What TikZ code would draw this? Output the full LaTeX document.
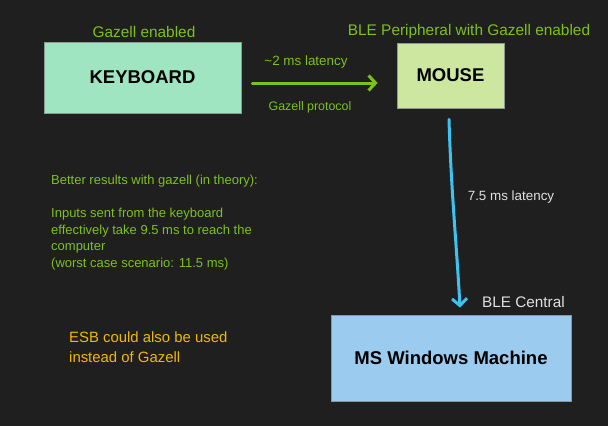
\documentclass[tikz,border=0pt]{standalone}
\usepackage{fontspec}
\setmainfont{Liberation Sans}
\usetikzlibrary{positioning, arrows.meta}
\definecolor{canvas}{HTML}{1F1F1F}
\definecolor{gzgreen}{HTML}{7DC11C}
\definecolor{esbyellow}{HTML}{F2B705}
\definecolor{blelink}{HTML}{3CC3F0}
\definecolor{kbdfill}{HTML}{A0E5C1}
\definecolor{mousefill}{HTML}{CDE7A0}
\definecolor{winfill}{HTML}{9CCBF0}
\definecolor{boxline}{HTML}{8A9A90}

\tikzset{
  devbox/.style={draw=boxline, line width=0.8pt, inner sep=0pt,
                 font=\fontsize{18.5}{22}\selectfont\bfseries, text=black},
  gztext/.style={text=gzgreen, inner sep=0pt},
  linkarrow/.style={line width=3pt, line cap=round,
                    -{Straight Barb[length=7pt, width=15pt, line width=3pt]}},
}

\begin{document}
\begin{tikzpicture}[x=1pt, y=-1pt]
  \fill[canvas] (0,0) rectangle (608,426);
  \useasboundingbox (0,0) rectangle (608,426);

  % devices
  \node[devbox, fill=kbdfill, minimum width=197pt, minimum height=71pt]
    (kbd) at (142.5,77.5) {KEYBOARD};
  \node[devbox, fill=mousefill, minimum width=107pt, minimum height=65pt]
    (mouse) at (450.5,75.5) {MOUSE};
  \node[devbox, fill=winfill, minimum width=240pt, minimum height=86pt]
    (win) at (451,358) {MS Windows Machine};

  % roles
  \node[gztext, font=\fontsize{15.4}{18}\selectfont] (kbdrole) at (144,32) {Gazell enabled};
  \node[gztext, font=\fontsize{15.4}{18}\selectfont] (mouserole) at (469,32)
    {BLE Peripheral with Gazell enabled};
  \node[text=white!88!black, inner sep=0pt, font=\fontsize{15.3}{18}\selectfont,
        anchor=west] (central) at (482,302) {BLE Central};

  % links
  \draw[linkarrow, gzgreen] ([xshift=11pt, yshift=-5.5pt]kbd.east)
    -- ([xshift=-19pt, yshift=-5.5pt]kbd.east -| mouse.west);
  \node[gztext, font=\fontsize{13.4}{16}\selectfont] (gzlat) at (306,62) {\textasciitilde2 ms latency};
  \node[gztext, font=\fontsize{12.4}{15}\selectfont] (gzproto) at (310,107) {Gazell protocol};

  \draw[linkarrow, blelink] ([xshift=-1.5pt, yshift=-11pt]mouse.south)
    .. controls (451,190) and (457,250) .. ([xshift=9pt, yshift=7pt]win.north);
  \node[text=white!88!black, inner sep=0pt, font=\fontsize{13.4}{16}\selectfont]
    (blelat) at (511,197) {7.5 ms latency};

  % notes
  \node[gztext, anchor=north west, align=left,
        font=\fontsize{13}{16.5}\selectfont] (theory) at (51,175)
    {Better results with gazell (in theory):\\[16.5pt]
     Inputs sent from the keyboard\\
     effectively take 9.5 ms to reach the\\
     computer\\
     (worst case scenario: 11.5 ms)};
  \node[text=esbyellow, inner sep=0pt, anchor=north west, align=left,
        font=\fontsize{14.9}{20}\selectfont] (esb) at (69,331)
    {ESB could also be used\\instead of Gazell};
\end{tikzpicture}
\end{document}
